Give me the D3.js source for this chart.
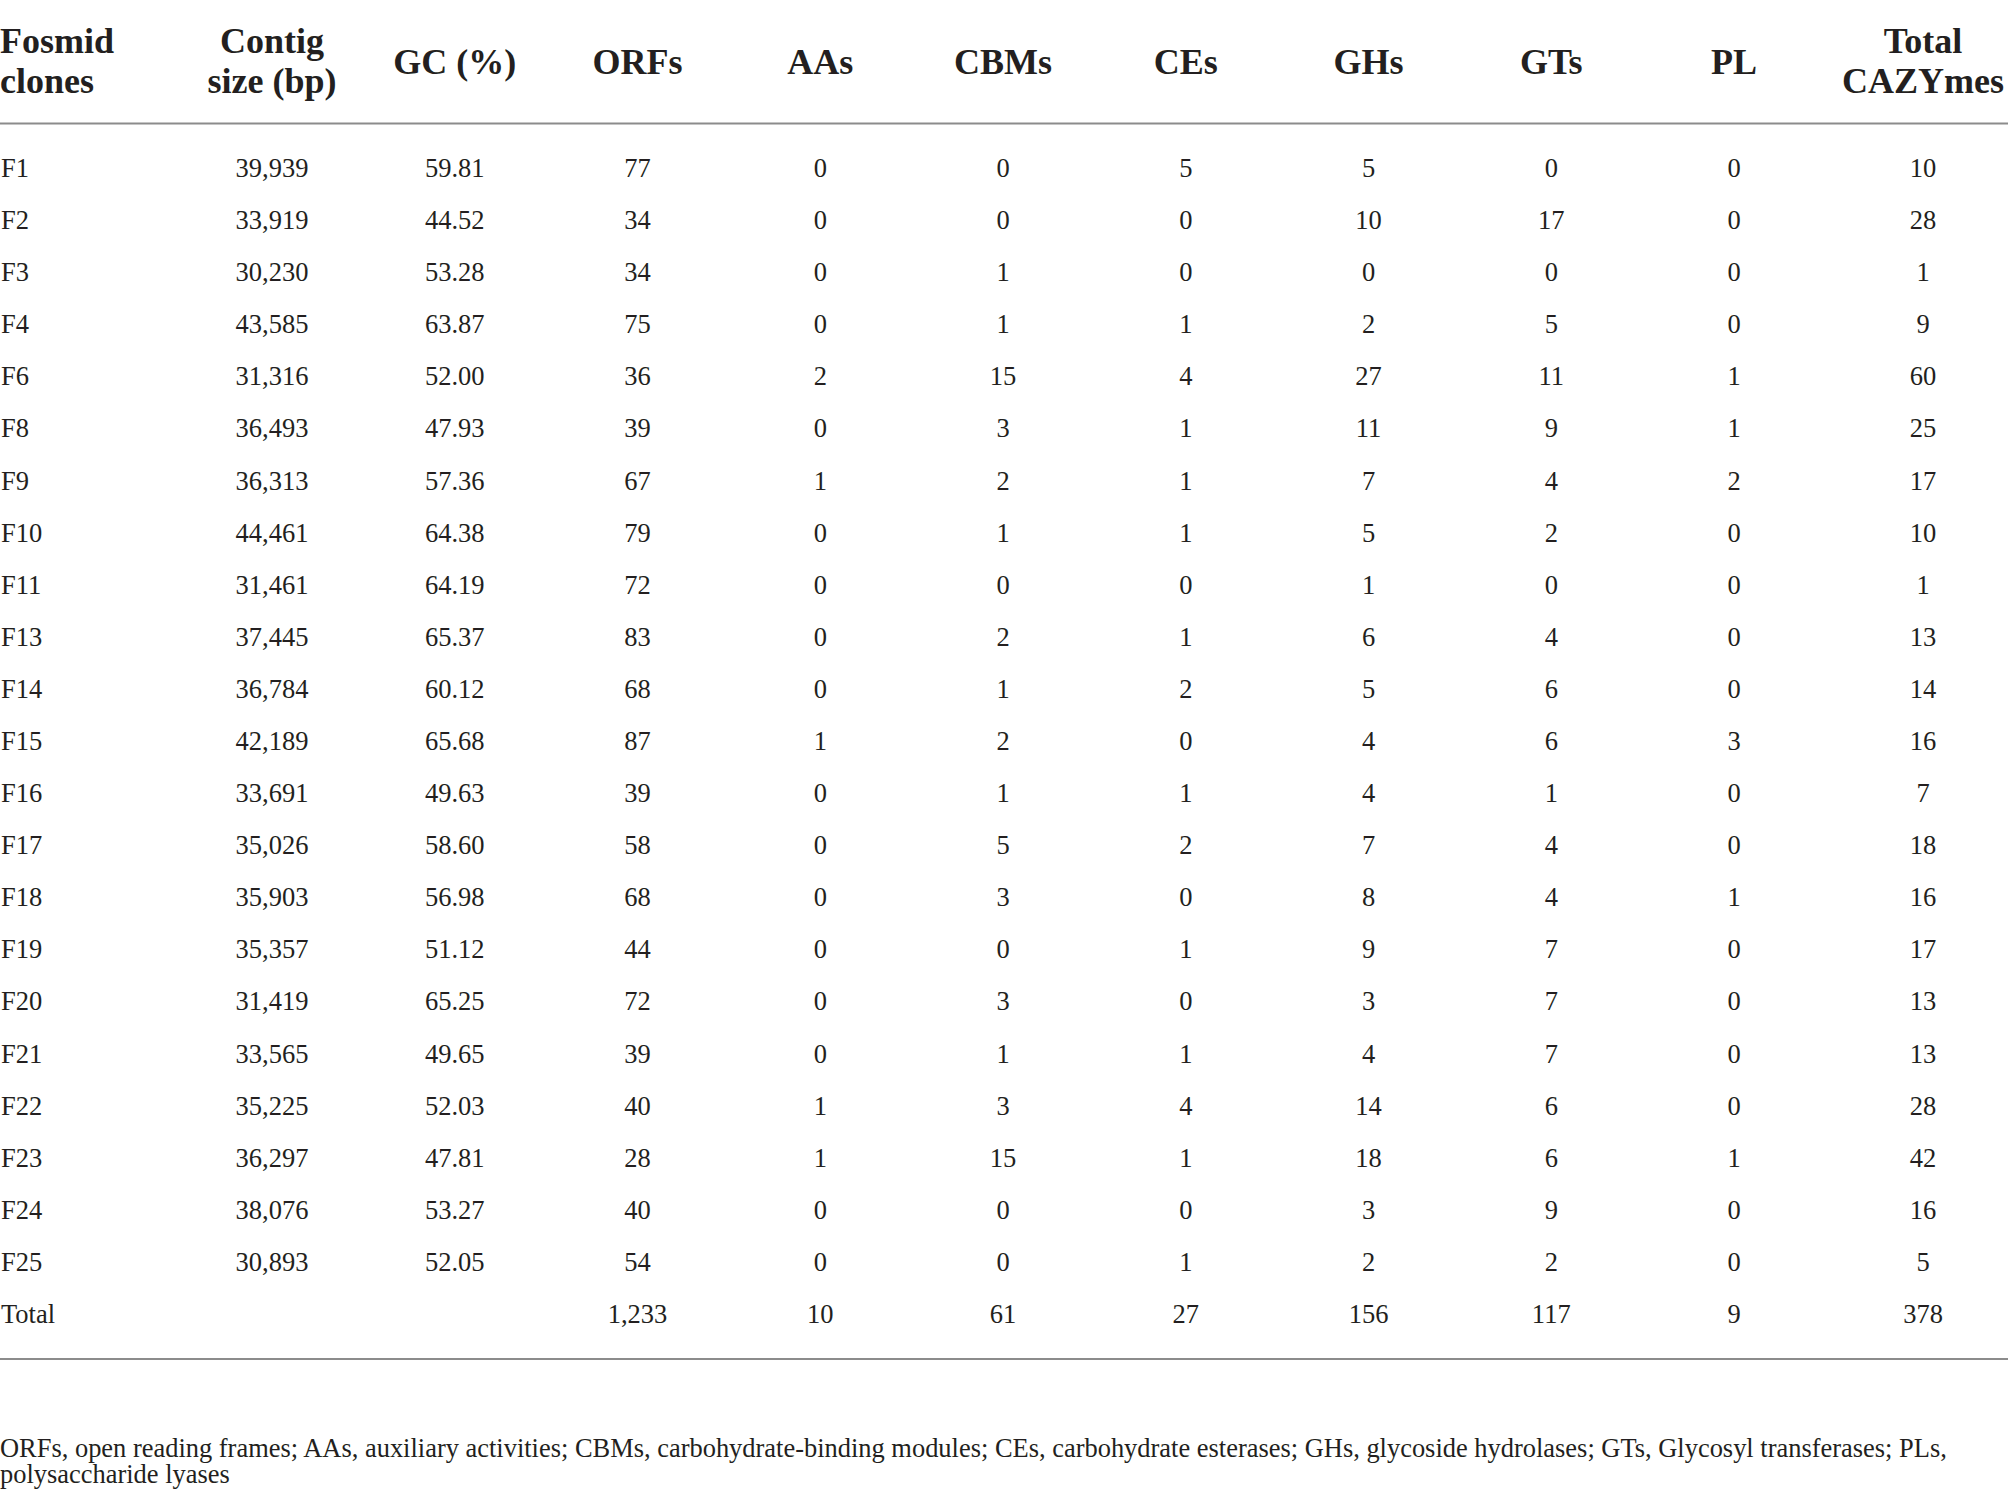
<!DOCTYPE html>
<html>
<head>
<meta charset="utf-8">
<script src="https://cdn.jsdelivr.net/npm/d3@7"></script>
<style>
  html, body { margin: 0; padding: 0; background: #fff; }
  svg { display: block; }
</style>
</head>
<body>
<div id="chart"></div>
<script>
// table values
var clones  = ["F1","F2","F3","F4","F6","F8","F9","F10","F11","F13","F14","F15","F16","F17","F18","F19","F20","F21","F22","F23","F24","F25"];
var contig  = [39939,33919,30230,43585,31316,36493,36313,44461,31461,37445,36784,42189,33691,35026,35903,35357,31419,33565,35225,36297,38076,30893];
var gc      = [59.81,44.52,53.28,63.87,52.00,47.93,57.36,64.38,64.19,65.37,60.12,65.68,49.63,58.60,56.98,51.12,65.25,49.65,52.03,47.81,53.27,52.05];
var orfs    = [77,34,34,75,36,39,67,79,72,83,68,87,39,58,68,44,72,39,40,28,40,54];
var aas     = [0,0,0,0,2,0,1,0,0,0,0,1,0,0,0,0,0,0,1,1,0,0];
var cbms    = [0,0,1,1,15,3,2,1,0,2,1,2,1,5,3,0,3,1,3,15,0,0];
var ces     = [5,0,0,1,4,1,1,1,0,1,2,0,1,2,0,1,0,1,4,1,0,1];
var ghs     = [5,10,0,2,27,11,7,5,1,6,5,4,4,7,8,9,3,4,14,18,3,2];
var gts     = [0,17,0,5,11,9,4,2,0,4,6,6,1,4,4,7,7,7,6,6,9,2];
var pl      = [0,0,0,0,1,1,2,0,0,0,0,3,0,0,1,0,0,0,0,1,0,0];
var totalCaz = [10,28,1,9,60,25,17,10,1,13,14,16,7,18,16,17,13,13,28,42,16,5];
var totalRow = { label: "Total", orfs: 1233, aas: 10, cbms: 61, ces: 27, ghs: 156, gts: 117, pl: 9, total: 378 };

var columnKeys = ["contig","gc","orfs","aas","cbms","ces","ghs","gts","pl","total"];
var headers = [
  { key: "clone",  lines: ["Fosmid", "clones"] },
  { key: "contig", lines: ["Contig", "size (bp)"] },
  { key: "gc",     lines: ["GC (%)"] },
  { key: "orfs",   lines: ["ORFs"] },
  { key: "aas",    lines: ["AAs"] },
  { key: "cbms",   lines: ["CBMs"] },
  { key: "ces",    lines: ["CEs"] },
  { key: "ghs",    lines: ["GHs"] },
  { key: "gts",    lines: ["GTs"] },
  { key: "pl",     lines: ["PL"] },
  { key: "total",  lines: ["Total", "CAZYmes"] }
];
var footnote = [
  "ORFs, open reading frames; AAs, auxiliary activities; CBMs, carbohydrate-binding modules; CEs, carbohydrate esterases; GHs, glycoside hydrolases; GTs, Glycosyl transferases; PLs,",
  "polysaccharide lyases"
];

var width = 2008, height = 1499;
var ink = "#231f20", ruleColor = "#8c8c8c";
var serif = "'Liberation Serif', 'Times New Roman', serif";

var svg = d3.select("#chart").append("svg")
  .attr("width", width)
  .attr("height", height);

svg.append("rect").attr("width", width).attr("height", height).attr("fill", "#fff");

// column centers: even spacing for first nine, last one a bit wider
var xEven = d3.scalePoint().domain(columnKeys.slice(0, 9)).range([272, 1734]);
function colX(key) {
  if (key == "clone") return 0;
  if (key == "total") return 1923;
  return xEven(key);
}

var rowLabels = clones.concat(["Total"]);
var y = d3.scalePoint().domain(rowLabels).range([177, 1323]);

var fmtInt = d3.format(",");
var fmtGc = d3.format(".2f");

var rows = clones.map(function (c, i) {
  return {
    clone: c,
    contig: fmtInt(contig[i]),
    gc: fmtGc(gc[i]),
    orfs: orfs[i], aas: aas[i], cbms: cbms[i], ces: ces[i],
    ghs: ghs[i], gts: gts[i], pl: pl[i], total: totalCaz[i]
  };
});
rows.push({
  clone: totalRow.label, contig: "", gc: "",
  orfs: fmtInt(totalRow.orfs), aas: totalRow.aas, cbms: totalRow.cbms, ces: totalRow.ces,
  ghs: totalRow.ghs, gts: totalRow.gts, pl: totalRow.pl, total: totalRow.total
});

// header
var head = svg.append("g").attr("class", "header")
  .attr("font-family", serif)
  .attr("font-weight", "bold")
  .attr("font-size", 36)
  .attr("fill", ink);

head.selectAll("text")
  .data(headers)
  .enter().append("text")
  .attr("text-anchor", function (d) { return d.key == "clone" ? "start" : "middle"; })
  .each(function (d) {
    var t = d3.select(this);
    var ys = d.lines.length == 2 ? [53, 93] : [73.5];
    d.lines.forEach(function (line, j) {
      t.append("tspan").attr("x", colX(d.key)).attr("y", ys[j]).text(line);
    });
  });

// rules
svg.append("g").selectAll("line")
  .data([123.5, 1359])
  .enter().append("line")
  .attr("x1", 0).attr("x2", width)
  .attr("y1", function (d) { return d; })
  .attr("y2", function (d) { return d; })
  .attr("stroke", ruleColor)
  .attr("stroke-width", 2);

// body
var body = svg.append("g").attr("class", "body")
  .attr("font-family", serif)
  .attr("font-size", 26.5)
  .attr("fill", ink);

var rowG = body.selectAll("g.row")
  .data(rows)
  .enter().append("g")
  .attr("class", "row")
  .attr("transform", function (d) { return "translate(0," + y(d.clone) + ")"; });

rowG.append("text")
  .attr("x", colX("clone") + 1)
  .text(function (d) { return d.clone; });

columnKeys.forEach(function (key) {
  rowG.append("text")
    .attr("x", colX(key))
    .attr("text-anchor", "middle")
    .text(function (d) { return d[key]; });
});

// footnote, sized so the first line spans the same width as in the source
var foot = svg.append("g")
  .attr("font-family", serif)
  .attr("fill", ink)
  .attr("font-size", 26);

var footText = foot.selectAll("text")
  .data(footnote)
  .enter().append("text")
  .attr("x", 0)
  .attr("y", function (d, i) { return 1457 + i * 26; })
  .text(function (d) { return d; });

var w0 = footText.node().getComputedTextLength();
if (w0 > 0) foot.attr("font-size", 26 * 1948 / w0);
</script>
</body>
</html>
